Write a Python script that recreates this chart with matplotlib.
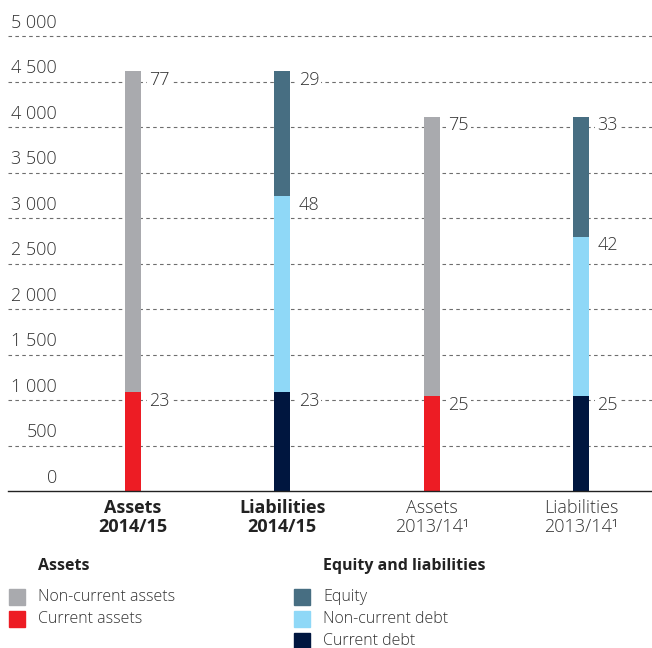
import matplotlib
matplotlib.use("Agg")
import matplotlib.pyplot as plt
import matplotlib.transforms as mtransforms
from matplotlib.patches import Rectangle

plt.rcParams['font.family'] = ['Open Sans', 'DejaVu Sans']

# data
categories = ["Assets\n2014/15", "Liabilities\n2014/15", "Assets\n2013/14\u00b9", "Liabilities\n2013/14\u00b9"]
bold_cats = [True, True, False, False]

# assets bars: 2014/15, 2013/14
assets_current = [1088, 1044]
assets_noncurrent = [3527, 3069]
assets_pct = [[23, 77], [25, 75]]

# liabilities bars: 2014/15, 2013/14
liab_current = [1088, 1044]
liab_noncurrent = [2154, 1750]
liab_equity = [1373, 1319]
liab_pct = [[23, 48, 29], [25, 42, 33]]

y_ticks = [0, 500, 1000, 1500, 2000, 2500, 3000, 3500, 4000, 4500, 5000]
y_tick_labels = ["0", "500", "1 000", "1 500", "2 000", "2 500", "3 000", "3 500", "4 000", "4 500", "5 000"]

c_grey = "#a9aaae"
c_red = "#ed1c24"
c_equity = "#476e82"
c_light = "#8fd8f7"
c_navy = "#00163f"
txt = "#333333"

W, H = 652, 648
fig = plt.figure(figsize=(W / 100, H / 100), dpi=100)

ymax = 5100
bottom_px, zero_px, px500 = 491, 491, 45.5
top_px = zero_px - ymax / 500 * px500
ax = fig.add_axes([8 / W, 1 - bottom_px / H, (652 - 8) / W, (bottom_px - top_px) / H])

spacing = 149.3
xleft = (8 - 133) / spacing
xright = (652 - 133) / spacing
ax.set_xlim(xleft, xright)
ax.set_ylim(0, ymax)
bw = 16 / spacing

# grid
for v in y_ticks[1:]:
    ax.axhline(v, color="#6e6e6e", lw=0.8, ls=(0, (3.2, 3.0)), zorder=0)
for s in ["top", "right", "left"]:
    ax.spines[s].set_visible(False)
ax.spines["bottom"].set_color("#222222")
ax.spines["bottom"].set_linewidth(1.0)

# y labels above gridlines
trans = mtransforms.blended_transform_factory(ax.transAxes, ax.transData)
for v, lab in zip(y_ticks, y_tick_labels):
    ax.annotate(lab, xy=(49 / (652 - 8), v), xycoords=trans, xytext=(0, 9.5),
                textcoords="offset points", ha="right", va="center",
                fontsize=13, color=txt, fontweight="light")
ax.set_yticks([])

xpos = [0, 1, 2, 3]


def label(x, top, pct):
    ax.annotate(str(pct), xy=(x + bw / 2, top), xytext=(6.0, -6.2),
                textcoords="offset points", ha="left", va="center",
                fontsize=13, color=txt, fontweight="light",
                bbox=dict(boxstyle="square,pad=0.12", fc="white", ec="none"), zorder=3)


for i, x in enumerate([xpos[0], xpos[2]]):
    ax.bar(x, assets_current[i], bw, color=c_red, zorder=2)
    ax.bar(x, assets_noncurrent[i], bw, bottom=assets_current[i], color=c_grey, zorder=2)
    label(x, assets_current[i], assets_pct[i][0])
    label(x, assets_current[i] + assets_noncurrent[i], assets_pct[i][1])

for i, x in enumerate([xpos[1], xpos[3]]):
    b1 = liab_current[i]
    b2 = b1 + liab_noncurrent[i]
    ax.bar(x, liab_current[i], bw, color=c_navy, zorder=2)
    ax.bar(x, liab_noncurrent[i], bw, bottom=b1, color=c_light, zorder=2)
    ax.bar(x, liab_equity[i], bw, bottom=b2, color=c_equity, zorder=2)
    label(x, b1, liab_pct[i][0])
    label(x, b2, liab_pct[i][1])
    label(x, b2 + liab_equity[i], liab_pct[i][2])

ax.set_xticks(xpos)
ax.set_xticklabels(categories, fontsize=13, color=txt, linespacing=1.05)
for t, b in zip(ax.get_xticklabels(), bold_cats):
    t.set_fontweight("bold" if b else "light")
    if b:
        t.set_color("#222222")
ax.tick_params(axis="x", length=0, pad=6)

# legend drawn in pixel coordinates
lg = fig.add_axes([0, 0, 1, 1])
lg.set_xlim(0, W)
lg.set_ylim(H, 0)
lg.axis("off")

lg.text(38, 566, "Assets", fontsize=11.5, fontweight="bold", color="#222222", va="center")
lg.text(323, 566, "Equity and liabilities", fontsize=11.5, fontweight="bold", color="#222222", va="center")

left_items = [("Non-current assets", c_grey), ("Current assets", c_red)]
right_items = [("Equity", c_equity), ("Non-current debt", c_light), ("Current debt", c_navy)]
rows = [597, 619, 641]
for (name, col), y in zip(left_items, rows):
    lg.add_patch(Rectangle((9, y - 8), 16, 16, color=col))
    lg.text(38, y, name, fontsize=11.5, color=txt, va="center", fontweight="light")
for (name, col), y in zip(right_items, rows):
    lg.add_patch(Rectangle((294, y - 8), 16, 16, color=col))
    lg.text(323, y, name, fontsize=11.5, color=txt, va="center", fontweight="light")

fig.savefig("out.png", dpi=100)
